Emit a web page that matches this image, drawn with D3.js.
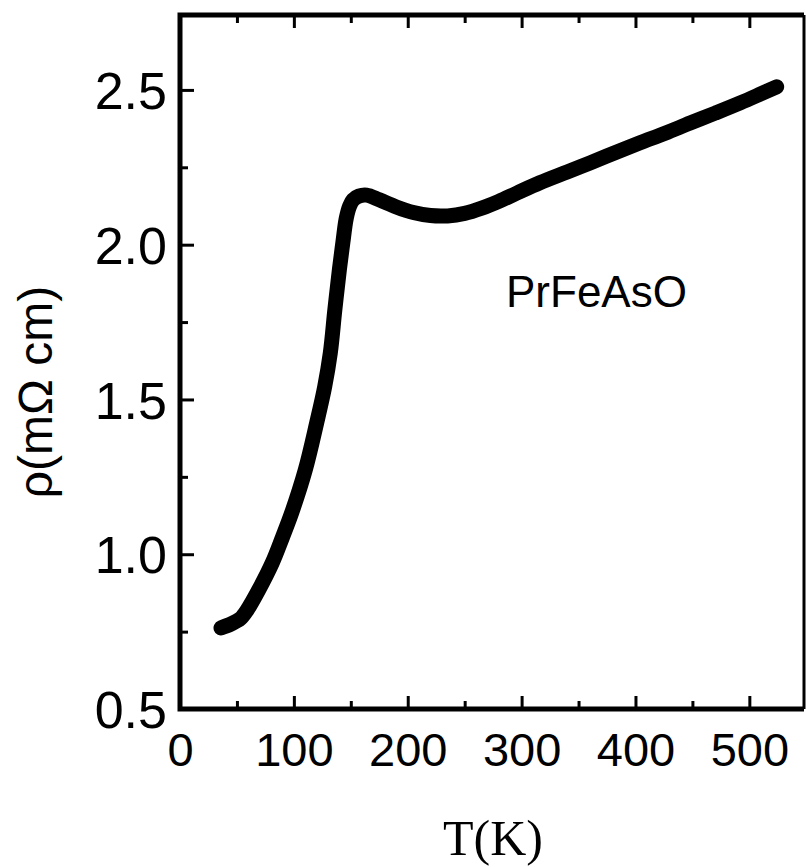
<!DOCTYPE html>
<html>
<head>
<meta charset="utf-8">
<script src="https://cdn.jsdelivr.net/npm/d3@7"></script>
<style>
  body { margin: 0; background: #fff; }
</style>
</head>
<body>
<div id="chart"></div>
<script>
'use strict';

// T (K) and resistivity (mOhm cm)
const temperature = [36, 45, 53, 59, 69, 81, 90, 98, 110, 120, 127, 132, 136, 140, 143, 146, 149, 152, 157, 164,
  175, 190, 205, 220, 235, 250, 265, 280, 296, 316, 340, 360, 382, 404, 426, 448, 470, 492, 510, 524];
const resistivity = [0.762, 0.775, 0.792, 0.82, 0.884, 0.972, 1.055, 1.133, 1.272, 1.424, 1.54, 1.65, 1.79, 1.92, 2.006, 2.085, 2.125, 2.145, 2.157, 2.16,
  2.145, 2.122, 2.104, 2.094, 2.093, 2.101, 2.118, 2.14, 2.167, 2.2, 2.235, 2.264, 2.297, 2.329, 2.36, 2.393, 2.425, 2.458, 2.487, 2.51];

const xMajorTicks = [0, 100, 200, 300, 400, 500];
const xMinorTicks = [50, 150, 250, 350, 450];
const yMajorTicks = [0.5, 1.0, 1.5, 2.0, 2.5];
const yMinorTicks = [0.75, 1.25, 1.75, 2.25];

const width = 806;
const height = 867;
const margin = {
  top: 15,
  right: 2,
  bottom: 158,
  left: 180,
};

const sansFont = 'Liberation Sans, Arial, sans-serif';
const serifFont = 'Liberation Serif, Times New Roman, serif';

const svg = d3.select('#chart')
  .append('svg')
  .attr('width', width)
  .attr('height', height);

const x = d3.scaleLinear()
  .domain([0, 548])
  .range([margin.left, width - margin.right]);

const y = d3.scaleLinear()
  .domain([0.5, 2.742])
  .range([height - margin.bottom, margin.top]);

const [x0, x1] = x.range();
const [y0, y1] = y.range();

// frame: left, bottom and top heavy, right thin
svg.append('line')
  .attr('x1', x1).attr('x2', x1)
  .attr('y1', y1).attr('y2', y0)
  .attr('stroke', 'black')
  .attr('stroke-width', 3);

svg.append('path')
  .attr('d', `M${x1},${y1} L${x0},${y1} L${x0},${y0} L${x1},${y0}`)
  .attr('fill', 'none')
  .attr('stroke', 'black')
  .attr('stroke-width', 5);

const styleAxis = (g) => {
  g.select('.domain').remove();
  g.selectAll('.tick line')
    .attr('stroke', 'black')
    .attr('stroke-width', 3);
  g.selectAll('.tick text')
    .attr('fill', 'black')
    .attr('font-family', sansFont);
}

// ticks point inward, drawn over the frame
svg.append('g')
  .attr('transform', `translate(0, ${y0})`)
  .call(d3.axisBottom(x).tickValues(xMajorTicks).tickSize(-13).tickPadding(24).tickFormat(d3.format('d')))
  .call(styleAxis)
  .selectAll('.tick text')
  .attr('font-size', '47px');

svg.append('g')
  .attr('transform', `translate(0, ${y0})`)
  .call(d3.axisBottom(x).tickValues(xMinorTicks).tickSize(-8).tickFormat(''))
  .call(styleAxis);

svg.append('g')
  .attr('transform', `translate(0, ${y1})`)
  .call(d3.axisTop(x).tickValues(xMajorTicks).tickSize(-13).tickFormat(''))
  .call(styleAxis);

svg.append('g')
  .attr('transform', `translate(0, ${y1})`)
  .call(d3.axisTop(x).tickValues(xMinorTicks).tickSize(-8).tickFormat(''))
  .call(styleAxis);

svg.append('g')
  .attr('transform', `translate(${x0}, 0)`)
  .call(d3.axisLeft(y).tickValues(yMajorTicks).tickSize(-14).tickPadding(13).tickFormat(d3.format('.1f')))
  .call(styleAxis)
  .selectAll('.tick text')
  .attr('font-size', '52px')
  .attr('dy', '0.36em');

svg.append('g')
  .attr('transform', `translate(${x0}, 0)`)
  .call(d3.axisLeft(y).tickValues(yMinorTicks).tickSize(-8).tickFormat(''))
  .call(styleAxis);

// axis titles
svg.append('text')
  .attr('x', 493)
  .attr('y', 855)
  .attr('text-anchor', 'middle')
  .attr('font-family', serifFont)
  .attr('font-size', '50px')
  .text('T(K)');

svg.append('text')
  .attr('transform', 'translate(52, 392) rotate(-90)')
  .attr('text-anchor', 'middle')
  .attr('font-family', sansFont)
  .attr('font-size', '48px')
  .text('ρ(mΩ cm)');

svg.append('text')
  .attr('x', 506)
  .attr('y', 307)
  .attr('font-family', sansFont)
  .attr('font-size', '44px')
  .text('PrFeAsO');

// data curve (dense symbols drawn as a thick line)
const points = temperature.map((t, i) => [t, resistivity[i]]);

const line = d3.line()
  .x((d) => x(d[0]))
  .y((d) => y(d[1]))
  .curve(d3.curveCatmullRom.alpha(0.5));

svg.append('path')
  .datum(points)
  .attr('d', line)
  .attr('fill', 'none')
  .attr('stroke', 'black')
  .attr('stroke-width', 15)
  .attr('stroke-linecap', 'round')
  .attr('stroke-linejoin', 'round');
</script>
</body>
</html>
